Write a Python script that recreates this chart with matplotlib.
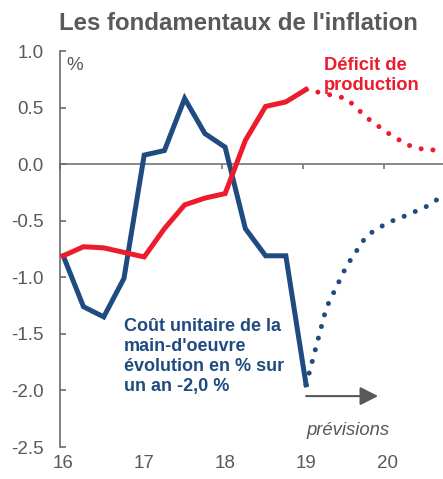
import matplotlib
matplotlib.use("Agg")
import matplotlib.pyplot as plt

plt.rcParams['font.family'] = ['Liberation Sans', 'DejaVu Sans']

# Actual data (quarterly)
quarters = [16.0, 16.25, 16.5, 16.75, 17.0, 17.25, 17.5, 17.75, 18.0, 18.25, 18.5, 18.75, 19.0]
labour_cost = [-0.81, -1.26, -1.35, -1.01, 0.08, 0.12, 0.58, 0.27, 0.15, -0.57, -0.81, -0.81, -1.95]
output_gap = [-0.81, -0.73, -0.74, -0.78, -0.82, -0.57, -0.36, -0.30, -0.26, 0.21, 0.51, 0.55, 0.66]

# Forecasts (quarterly)
fc_quarters = [19.0, 19.25, 19.5, 19.75, 20.0, 20.25, 20.5, 20.75]
labour_cost_fc = [-1.95, -1.27, -0.90, -0.63, -0.52, -0.45, -0.37, -0.25]
output_gap_fc = [0.66, 0.62, 0.58, 0.41, 0.28, 0.17, 0.12, 0.14]

years = [16, 17, 18, 19, 20]
year_labels = ['16', '17', '18', '19', '20']
yticks = [1.0, 0.5, 0.0, -0.5, -1.0, -1.5, -2.0, -2.5]

BLUE = '#1f4b80'
RED = '#ec1c2d'
GRAY = '#595959'

fig = plt.figure(figsize=(4.43, 4.79), dpi=100)
ax = fig.add_axes([60/443, 1 - 447/479, 1 - 60/443, (447 - 51)/479])

lw = 3.6
ax.plot(quarters, labour_cost, color=BLUE, lw=lw, solid_joinstyle='miter', zorder=3)
ax.plot(quarters, output_gap, color=RED, lw=lw, solid_joinstyle='miter', zorder=4)
ax.plot(fc_quarters, labour_cost_fc, color=BLUE, lw=lw, linestyle=(0, (0.01, 2.4)),
        dash_capstyle='round', zorder=3)
ax.plot(fc_quarters, output_gap_fc, color=RED, lw=lw, linestyle=(0, (0.01, 2.4)),
        dash_capstyle='round', zorder=4)

ax.set_xlim(15.963, 15.963 + 383/81)
ax.set_ylim(-2.5, 1.0)

# spines
for s in ['top', 'right']:
    ax.spines[s].set_visible(False)
ax.spines['left'].set_color('#6a6a6a')
ax.spines['left'].set_linewidth(1.2)
ax.spines['bottom'].set_position(('data', 0))
ax.spines['bottom'].set_color('#7f7f7f')
ax.spines['bottom'].set_linewidth(1.3)
ax.spines['bottom'].set_zorder(1)

ax.set_yticks(yticks)
ax.set_yticklabels([f"{v:.1f}" for v in yticks])
ax.tick_params(axis='y', direction='in', length=4, width=1.2, color='#6a6a6a',
               labelsize=13.5, labelcolor=GRAY, pad=12)

ax.set_xticks([y - 0.04 for y in years])
ax.tick_params(axis='x', direction='out', length=3.5, width=1.3, color='#7f7f7f',
               labelbottom=False)

sec = ax.secondary_xaxis(0)
sec.set_xticks(years)
sec.set_xticklabels(year_labels)
sec.spines['bottom'].set_visible(False)
sec.tick_params(axis='x', length=0, labelsize=13.5, labelcolor=GRAY, pad=5.5)

# texts
fig.text(238/443, 1 - 24/479, "Les fondamentaux de l'inflation", ha='center', va='center',
         fontsize=17.3, fontweight='bold', color=GRAY)
ax.text(16.04, 0.87, '%', fontsize=13.5, color=GRAY, ha='left', va='center')
ax.text(19.22, 0.945, 'Déficit de\nproduction', fontsize=13.2, fontweight='bold',
        color=RED, ha='left', va='top', linespacing=1.24)
ax.text(16.75, -1.36, "Coût unitaire de la\nmain-d'oeuvre\névolution en % sur\nun an -2,0 %",
        fontsize=13.0, fontweight='bold', color=BLUE, ha='left', va='top', linespacing=1.24)

ax.annotate('', xy=(19.89, -2.05), xytext=(19.0, -2.05),
            arrowprops=dict(arrowstyle='-|>,head_length=0.55,head_width=0.28',
                            lw=1.5, color=GRAY, mutation_scale=20,
                            shrinkA=0, shrinkB=0))
ax.text(19.52, -2.35, 'prévisions', fontsize=13.3, style='italic', color=GRAY,
        ha='center', va='center')

fig.savefig('out.png', dpi=100)
